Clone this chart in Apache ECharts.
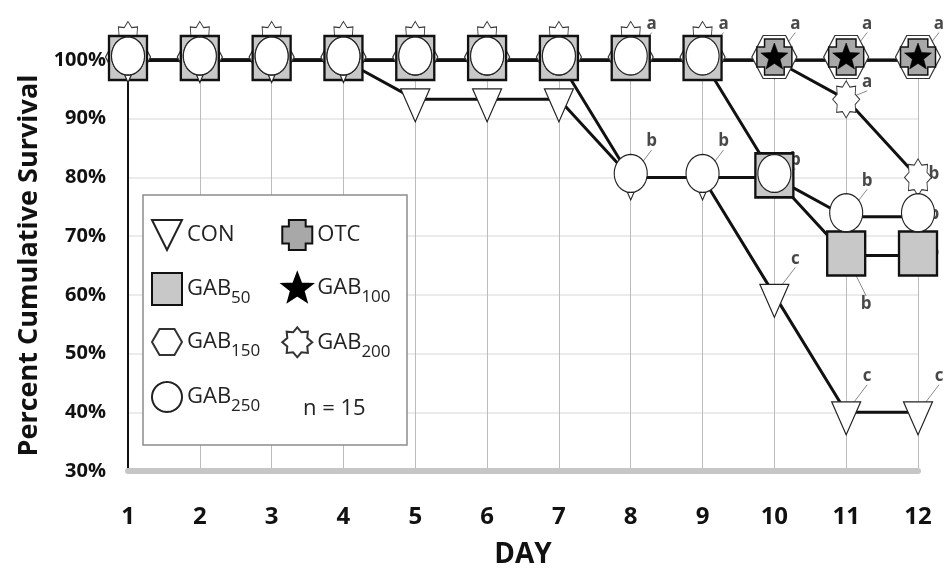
<!DOCTYPE html>
<html>
<head>
<meta charset="utf-8">
<script src="https://cdn.jsdelivr.net/npm/echarts@6/dist/echarts.min.js"></script>
<style>
  html, body { margin: 0; padding: 0; background: #fff; }
  #chart { width: 947px; height: 574px; }
</style>
</head>
<body>
<div id="chart"></div>
<script>
// survival per day (n = 15 per group)
const days = [1, 2, 3, 4, 5, 6, 7, 8, 9, 10, 11, 12];
const conValues    = [100, 100, 100, 100, 93.3, 93.3, 93.3, 80, 80, 60, 40, 40];
const otcValues    = [100, 100, 100, 100, 100, 100, 100, 100, 100, 100, 100, 100];
const gab50Values  = [100, 100, 100, 100, 100, 100, 100, 100, 100, 80, 66.7, 66.7];
const gab100Values = [100, 100, 100, 100, 100, 100, 100, 100, 100, 100, 100, 100];
const gab150Values = [100, 100, 100, 100, 100, 100, 100, 100, 100, 100, 100, 100];
const gab200Values = [100, 100, 100, 100, 100, 100, 100, 100, 100, 100, 93.3, 80];
const gab250Values = [100, 100, 100, 100, 100, 100, 100, 80, 80, 80, 73.3, 73.3];

// significance letters: [day, value, letter, placement]
const annotations = [
  [8, 100, 'a', 'up'], [9, 100, 'a', 'up'], [10, 100, 'a', 'up'], [11, 100, 'a', 'up'], [12, 100, 'a', 'up'],
  [11, 93.3, 'a', 'near'],
  [8, 80, 'b', 'up'], [9, 80, 'b', 'up'], [10, 80, 'b', 'near'],
  [11, 73.3, 'b', 'up'], [12, 80, 'b', 'right'], [12, 73.3, 'b', 'right'], [12, 66.7, 'b', 'right'],
  [11, 66.7, 'b', 'down'],
  [10, 60, 'c', 'up'], [11, 40, 'c', 'up'], [12, 40, 'c', 'up']
];

const FONT = 'Open Sans';

const placements = {
  up: { dx: 21, dy: -36 },
  near: { dx: 21, dy: -17 },
  right: { dx: 16, dy: -3 },
  down: { dx: 20, dy: 49 }
};

// marker shapes
function polyPath(pts) {
  return 'path://M' + pts.map(p => p[0].toFixed(2) + ',' + p[1].toFixed(2)).join(' L') + ' Z';
}
function starPts(n, inner) {
  const pts = [];
  for (let i = 0; i < 2 * n; i++) {
    const r = i % 2 ? inner : 1;
    const a = -Math.PI / 2 + i * Math.PI / n;
    pts.push([50 + 50 * r * Math.cos(a), 50 + 50 * r * Math.sin(a)]);
  }
  return pts;
}
function ellipsePts() {
  const pts = [];
  for (let i = 0; i < 48; i++) {
    const a = i * Math.PI * 2 / 48;
    pts.push([50 + 50 * Math.cos(a), 50 + 50 * Math.sin(a)]);
  }
  return pts;
}
const symDown = 'path://M0,0 L100,0 L50,100 Z';
const symHex = 'path://M0,50 L25,6.7 L75,6.7 L100,50 L75,93.3 L25,93.3 Z';
const symCross = 'path://M22,0 L78,0 L78,22 L100,22 L100,78 L78,78 L78,100 L22,100 L22,78 L0,78 L0,22 L22,22 Z';
const symStar5 = polyPath(starPts(5, 0.42));
const symStar8 = polyPath(starPts(8, 0.72));
const symEllipse = polyPath(ellipsePts());

const circleStyle = { color: '#fff', borderColor: '#222', borderWidth: 1.2, opacity: 1 };

const groups = [
  { name: 'GAB200', values: gab200Values, symbol: symStar8, size: [27, 37], offset: null, z: 4,
    style: { color: '#fff', borderColor: '#333', borderWidth: 1 } },
  { name: 'GAB150', values: gab150Values, symbol: symHex, size: [45, 43], offset: [0, -3], z: 5,
    style: { color: '#fff', borderColor: '#333', borderWidth: 1.2 } },
  { name: 'OTC', values: otcValues, symbol: symCross, size: [35, 36], offset: [0, -3], z: 6,
    style: { color: '#a8a8a8', borderColor: '#111', borderWidth: 1.5 } },
  { name: 'GAB100', values: gab100Values, symbol: symStar5, size: [27, 26], offset: [0, -4], z: 7,
    style: { color: '#000', borderColor: '#000', borderWidth: 0.5 } },
  { name: 'GAB50', values: gab50Values, symbol: 'rect', size: [38, 44], offset: [0, -2], z: 8,
    style: { color: '#c8c8c8', borderColor: '#111', borderWidth: 2.5 } },
  { name: 'CON', values: conValues, symbol: symDown, size: [29, 33], offset: [0, 6], z: 9,
    style: { color: '#fff', borderColor: '#222', borderWidth: 1.2 } },
  { name: 'GAB250', values: gab250Values, symbol: symEllipse, size: [33, 38], offset: [0, -4], z: 10,
    style: circleStyle }
];

const series = [];
groups.forEach(g => {
  series.push({
    name: g.name + '-line',
    type: 'line',
    data: days.map((d, i) => [d, g.values[i]]),
    symbol: 'none',
    lineStyle: { color: '#111', width: 3 },
    z: 2,
    silent: true
  });
});
groups.forEach(g => {
  series.push({
    name: g.name,
    type: 'scatter',
    data: days.map((d, i) => {
      const item = { value: [d, g.values[i]] };
      // GAB200 stars hidden in the 100% stack stick out above the squares
      if (!g.offset) item.symbolOffset = (d <= 9) ? [0, -20] : [0, 0];
      return item;
    }),
    symbol: g.symbol,
    symbolSize: g.size,
    symbolOffset: g.offset || [0, 0],
    itemStyle: Object.assign({ opacity: 1 }, g.style),
    z: g.z,
    silent: true
  });
});
// in the original the GAB150 points that share a GAB50 square show as a white circle
series.push({
  name: 'GAB150-inner',
  type: 'scatter',
  data: days.filter((d, i) => gab150Values[i] === gab50Values[i]).map(d => [d, gab150Values[days.indexOf(d)]]),
  symbol: symEllipse,
  symbolSize: [33, 38],
  symbolOffset: [0, -4],
  itemStyle: circleStyle,
  z: 10,
  silent: true
});
series.push({
  name: 'letters',
  type: 'scatter',
  data: annotations.map(a => ({ value: [a[0], a[1]], name: a[2] })),
  symbolSize: 2,
  itemStyle: { color: 'rgba(0,0,0,0)' },
  z: 3,
  silent: true,
  label: {
    show: true,
    position: 'inside',
    formatter: '{b}',
    fontFamily: FONT,
    fontWeight: 'bold',
    fontSize: 17,
    color: '#1a1a1a'
  },
  labelLine: { show: true, lineStyle: { color: '#8a8a8a', width: 1 } },
  labelLayout: params => placements[annotations[params.dataIndex][3]]
});

const legendOrder = ['CON', 'GAB50', 'GAB150', 'GAB250', 'OTC', 'GAB100', 'GAB200'];

const chart = echarts.init(document.getElementById('chart'));
chart.setOption({
  animation: false,
  backgroundColor: '#fff',
  grid: { left: 128, right: 29, top: 60, bottom: 103, containLabel: false },
  xAxis: {
    type: 'value',
    min: 1,
    max: 12,
    interval: 1,
    name: 'DAY',
    nameLocation: 'middle',
    nameGap: 70,
    nameTextStyle: { fontFamily: FONT, fontWeight: 'bold', fontSize: 28, color: '#111' },
    axisLine: { show: true, onZero: false, lineStyle: { color: '#c6c6c6', width: 6 } },
    axisTick: { show: false },
    axisLabel: { fontFamily: FONT, fontWeight: 'bold', fontSize: 24, color: '#111', margin: 34 },
    splitLine: { show: true, lineStyle: { color: '#bcbcbc', width: 1 } }
  },
  yAxis: {
    type: 'value',
    min: 30,
    max: 100,
    interval: 10,
    name: 'Percent Cumulative Survival',
    nameLocation: 'middle',
    nameRotate: 90,
    nameGap: 82,
    nameTextStyle: { fontFamily: FONT, fontWeight: 'bold', fontSize: 27, color: '#111' },
    axisLine: { show: true, lineStyle: { color: '#111', width: 2 } },
    axisTick: { show: false },
    axisLabel: { formatter: '{value}%', fontFamily: FONT, fontWeight: 'bold', fontSize: 20, color: '#111', margin: 22 },
    splitLine: { show: true, lineStyle: { color: '#e4e4e4', width: 1.5 } }
  },
  legend: {
    data: legendOrder,
    orient: 'vertical',
    left: 146,
    top: 214,
    height: 215,
    itemGap: 21,
    itemWidth: 30,
    itemHeight: 32,
    selectedMode: false,
    z: 20,
    formatter: name => name.indexOf('GAB') === 0 ? '{n|GAB}{s|' + name.slice(3) + '}' : '{n|' + name + '}',
    textStyle: {
      fontFamily: FONT,
      color: '#222',
      rich: {
        n: { fontFamily: FONT, fontSize: 22, lineHeight: 36, color: '#222' },
        s: { fontFamily: FONT, fontSize: 17, lineHeight: 17, verticalAlign: 'bottom', color: '#222' }
      }
    }
  },
  graphic: [
    {
      type: 'rect',
      z: 15,
      shape: { x: 143, y: 195, width: 264, height: 250 },
      style: { fill: '#fff', stroke: '#8c8c8c', lineWidth: 1.5 }
    },
    {
      type: 'text',
      z: 21,
      left: 303,
      top: 398,
      style: { text: 'n = 15', fontFamily: FONT, fontSize: 22, fill: '#222' }
    }
  ],
  series: series
});
</script>
</body>
</html>
